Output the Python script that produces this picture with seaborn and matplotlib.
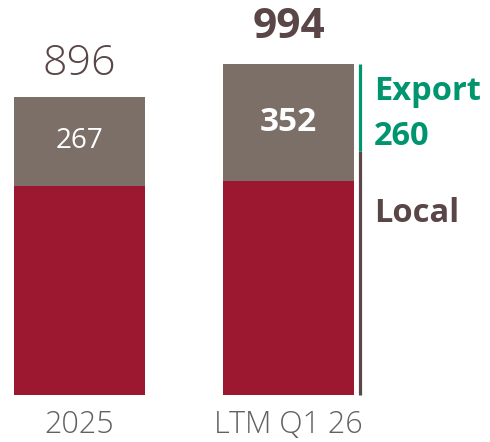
import matplotlib.pyplot as plt
import seaborn as sns
import pandas as pd

# data
periods = ['2025', 'LTM Q1 26']
totals = [896, 994]
grey_part = [267, 352]
local_part = [t - g for t, g in zip(totals, grey_part)]
export_value = 260

RED = '#9B1830'
GREY = '#7B6F68'
BROWN = '#5A4646'
GREEN = '#00956E'
LABEL = '#616161'

sns.set_style("white")
plt.rcParams['font.family'] = ['Open Sans', 'DejaVu Sans']

df = pd.DataFrame({'period': periods, 'total': totals, 'local': local_part})

fig = plt.figure(figsize=(4.9, 4.42), dpi=100)
ax = fig.add_axes([0, 0, 1, 1])

sns.barplot(data=df, x='period', y='total', color=GREY, width=0.627,
            saturation=1, linewidth=0, ax=ax)
sns.barplot(data=df, x='period', y='local', color=RED, width=0.627,
            saturation=1, linewidth=0, ax=ax)

ax.set_xlim(-0.380, 1.964)
ax.set_ylim(-141, 1186)
ax.axis('off')

# totals on top
ax.text(0, totals[0] + 100, f'{totals[0]}', ha='center', va='center',
        fontsize=31, color=BROWN, fontweight='light')
ax.text(1, totals[1] + 108, f'{totals[1]}', ha='center', va='center',
        fontsize=30.5, color=BROWN, fontweight='bold')

# grey segment values
ax.text(0, totals[0] - grey_part[0] / 2, f'{grey_part[0]}', ha='center',
        va='center', fontsize=20, color='white')
ax.text(1, totals[1] - grey_part[1] / 2, f'{grey_part[1]}', ha='center',
        va='center', fontsize=24, color='white', fontweight='bold')

# bracket on the right of the second bar
bx = 1.340
ax.plot([bx, bx], [totals[1], totals[1] - export_value], color=GREEN,
        lw=2.3, solid_capstyle='butt')
ax.plot([bx, bx], [totals[1] - export_value, 0], color=BROWN,
        lw=2.3, solid_capstyle='butt')

ax.text(1.408, 910, 'Export', ha='left', va='center', fontsize=23.5,
        color=GREEN, fontweight='bold')
ax.text(1.408, 775, f'{export_value}', ha='left', va='center', fontsize=23.5,
        color=GREEN, fontweight='bold')
ax.text(1.408, 545, 'Local', ha='left', va='center', fontsize=23.5,
        color=BROWN, fontweight='bold')

# category labels
for i, p in enumerate(periods):
    ax.text(i, -90, p, ha='center', va='center', fontsize=22, color=LABEL,
            fontweight='light')

plt.savefig('out.png', dpi=100, facecolor='white')
plt.close()
